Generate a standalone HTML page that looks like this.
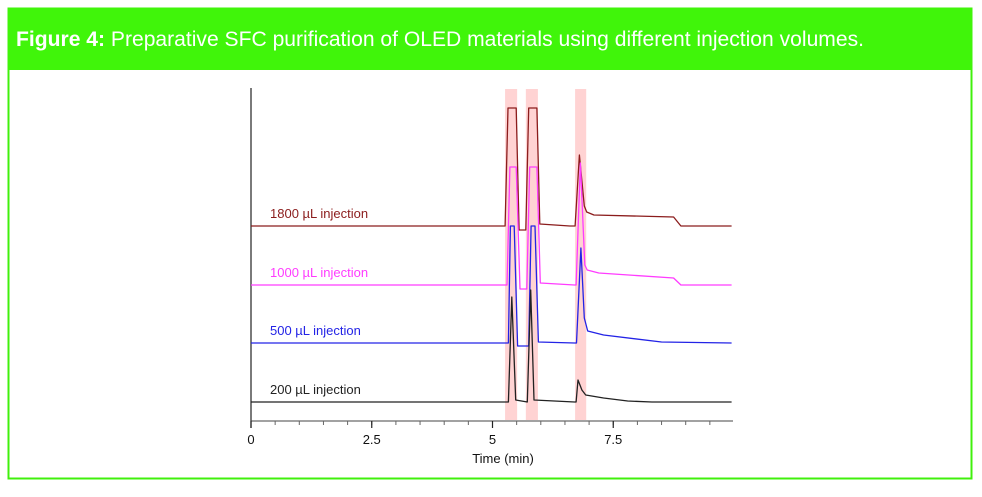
<!DOCTYPE html>
<html><head><meta charset="utf-8"><style>
body{margin:0;background:#fff;width:982px;height:492px;overflow:hidden;font-family:"Liberation Sans",sans-serif}
</style></head><body>
<svg id="chart" width="982" height="492" xmlns="http://www.w3.org/2000/svg">
<rect x="8.5" y="8.5" width="963" height="470" fill="#fff" stroke="#40f00c" stroke-width="2"/>
<rect x="8" y="8" width="964" height="62" fill="#40f50a"/>
<text x="16" y="46" font-size="21" fill="#fff" textLength="848" lengthAdjust="spacingAndGlyphs"><tspan font-weight="bold">Figure 4:</tspan> Preparative SFC purification of OLED materials using different injection volumes.</text>
<g id="bands"></g>
<g id="axes"></g>
<g id="traces"></g>
</svg>
<script>
const xTicks=[0,2.5,5,7.5];
const xTickLabels=["0","2.5","5","7.5"];
const bandStarts=[5.26,5.69,6.71];
const bandEnds=[5.51,5.94,6.94];
const traceLabels=["1800 µL injection","1000 µL injection","500 µL injection","200 µL injection"];
const traceColors=["#8b1c1c","#ff3cff","#2323e6","#222"];
const t1800=[0,5.26,5.32,5.49,5.55,5.69,5.75,5.92,5.98,6.6,6.71,6.80,6.90,6.95,7.1,8.75,8.9,9.95];
const v1800=[0,0,118,118,-4,-4,118,118,2,0,0,71,20,14,11,9,0,0];
const t1000=[0,5.30,5.36,5.49,5.57,5.71,5.77,5.92,5.99,6.7,6.73,6.82,6.91,6.96,7.2,8.75,8.9,9.95];
const v1000=[0,0,118,118,-4,-4,118,118,2,0,0,122,20,15,12,7,0,0];
const t500=[0,5.33,5.37,5.45,5.52,5.75,5.80,5.88,5.95,6.7,6.74,6.83,6.90,6.97,7.3,8.5,9.95];
const v500=[0,0,117,117,-3,-3,117,117,1,0,0,95,25,12,8,1,0];
const t200=[0,5.33,5.40,5.48,5.72,5.79,5.86,6.7,6.73,6.77,6.85,6.93,7.3,7.8,8.3,9.95];
const v200=[0,0,105,2,0,112,2,0,0,22,12,7,4,1,0,0];
const baselines=[226,285,343,402];
const series=[[t1800,v1800],[t1000,v1000],[t500,v500],[t200,v200]];
const x0=251,pxPerMin=48.3,axisY=421;
function xs(t){return x0+t*pxPerMin;}
function ys(v,i){return baselines[i]-v;}
const NS="http://www.w3.org/2000/svg";
function mk(tag,attrs,parent){const e=document.createElementNS(NS,tag);for(const k in attrs)e.setAttribute(k,attrs[k]);parent.appendChild(e);return e;}
const bands=document.getElementById('bands'),axes=document.getElementById('axes'),traces=document.getElementById('traces');
bandStarts.forEach((s,i)=>{
 const r=mk('rect',{x:xs(s),y:89,width:xs(bandEnds[i])-xs(s),height:331,fill:'#ffd3d3'},bands);
 
 
});
let l=mk('line',{x1:251,y1:88,x2:251,y2:428,stroke:'#222','stroke-width':1.2},axes);


l=mk('line',{x1:251,y1:axisY,x2:733,y2:axisY,stroke:'#444','stroke-width':1},axes);


for(let t=0.5;t<10;t+=0.5){
 const tk=mk('line',{x1:xs(t),y1:axisY,x2:xs(t),y2:axisY+4,stroke:'#666','stroke-width':1},axes);
 
 
}
xTicks.forEach((t,i)=>{
 const tk=mk('line',{x1:xs(t),y1:axisY,x2:xs(t),y2:axisY+7,stroke:'#222','stroke-width':1.2},axes);
 
 
 const tx=mk('text',{x:xs(t),y:444,'font-size':13,'text-anchor':'middle',fill:'#111'},axes);
 tx.textContent=xTickLabels[i];
 
 
});
const xt=mk('text',{x:503,y:463,'font-size':13,'text-anchor':'middle',fill:'#111'},axes);
xt.textContent='Time (min)';


series.forEach((s,i)=>{
 const d=s[0].map((t,j)=>(j?'L':'M')+xs(t).toFixed(1)+','+ys(s[1][j],i).toFixed(1)).join(' ');
 const p=mk('path',{d:d,fill:'none',stroke:traceColors[i],'stroke-width':1.3,'stroke-linejoin':'round'},traces);
 
 
 const tx=mk('text',{x:270,y:baselines[i]-8,'font-size':13,fill:traceColors[i]},traces);
 tx.textContent=traceLabels[i];
 
 
});
</script>
</body></html>
